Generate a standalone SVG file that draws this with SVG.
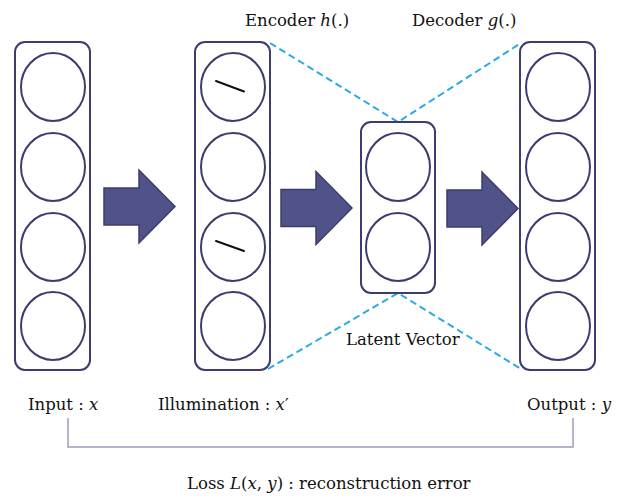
<svg xmlns="http://www.w3.org/2000/svg" width="624" height="498" viewBox="0 0 624 498">
  <style>
    .layer { fill: #ffffff; stroke: #3c3d6e; stroke-width: 2; }
    .unit { fill: #ffffff; stroke: #3c3d6e; stroke-width: 2; }
    .mark { stroke: #111111; stroke-width: 2; stroke-linecap: round; }
    .flow { fill: #515388; stroke: #3c3d6e; stroke-width: 1.5; stroke-linejoin: miter; }
    .dash { fill: none; stroke: #29abe2; stroke-width: 2; stroke-dasharray: 7 4; }
    .bracket { fill: none; stroke: #9c9dc6; stroke-width: 1.5; }
    text { font-family: "DejaVu Serif", "Liberation Serif", serif; font-size: 16.5px; fill: #111111; }
    .m { font-style: italic; }
  </style>
  <defs>
    <path id="block-arrow" d="M0,-18.5 H35 V-36.5 L71,0 L35,36.5 V18.5 H0 Z"/>
  </defs>

  <!-- encoder / decoder fan lines, flow arrows and the loss bracket -->
  <g id="connectors">
    <path class="dash" d="M270,43 L398,122 L521,43"/>
    <path class="dash" d="M268,369 L398,293 L521,369"/>
    <use href="#block-arrow" class="flow" x="104" y="206.5"/>
    <use href="#block-arrow" class="flow" x="281" y="208"/>
    <use href="#block-arrow" class="flow" x="447" y="208.5"/>
    <path class="bracket" d="M68,418 V447 H573 V418"/>
  </g>

  <g id="input-layer">
    <rect class="layer" x="15" y="42" width="75" height="328" rx="10"/>
    <ellipse class="unit" cx="53" cy="87" rx="32" ry="34"/>
    <ellipse class="unit" cx="53" cy="167" rx="32" ry="34"/>
    <ellipse class="unit" cx="53" cy="247" rx="32" ry="34"/>
    <ellipse class="unit" cx="53" cy="326" rx="32" ry="34"/>
  </g>

  <g id="illumination-layer">
    <rect class="layer" x="195" y="42" width="75" height="328" rx="10"/>
    <ellipse class="unit" cx="233" cy="87" rx="32" ry="34"/>
    <ellipse class="unit" cx="233" cy="167" rx="32" ry="34"/>
    <ellipse class="unit" cx="233" cy="247" rx="32" ry="34"/>
    <ellipse class="unit" cx="233" cy="326" rx="32" ry="34"/>
    <line class="mark" x1="216" y1="81" x2="244" y2="91.5"/>
    <line class="mark" x1="216" y1="241" x2="244" y2="251"/>
  </g>

  <g id="latent-layer">
    <rect class="layer" x="361" y="122" width="74" height="171" rx="10"/>
    <ellipse class="unit" cx="398" cy="167" rx="32" ry="34"/>
    <ellipse class="unit" cx="398" cy="247" rx="32" ry="34"/>
  </g>

  <g id="output-layer">
    <rect class="layer" x="520" y="42" width="75" height="328" rx="10"/>
    <ellipse class="unit" cx="558" cy="87" rx="32" ry="34"/>
    <ellipse class="unit" cx="558" cy="167" rx="32" ry="34"/>
    <ellipse class="unit" cx="558" cy="247" rx="32" ry="34"/>
    <ellipse class="unit" cx="558" cy="326" rx="32" ry="34"/>
  </g>

  <g id="labels">
    <text x="245" y="26">Encoder <tspan class="m">h</tspan>(.)</text>
    <text x="412" y="26">Decoder <tspan class="m">g</tspan>(.)</text>
    <text x="346" y="345">Latent Vector</text>
    <text x="28" y="410">Input : <tspan class="m">x</tspan></text>
    <text x="158" y="410">Illumination : <tspan class="m">x</tspan>′</text>
    <text x="527" y="410">Output : <tspan class="m">y</tspan></text>
    <text x="187" y="489">Loss <tspan class="m">L</tspan>(<tspan class="m">x</tspan>, <tspan class="m">y</tspan>) : reconstruction error</text>
  </g>
</svg>
